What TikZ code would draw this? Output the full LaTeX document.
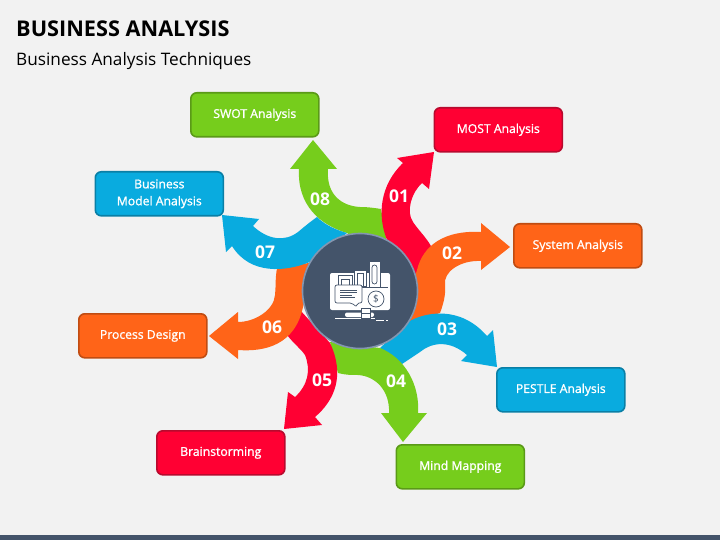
\documentclass[tikz,border=0pt]{standalone}
\usepackage{fontspec}
\setmainfont{Open Sans}
\newfontfamily\labfont[FakeBold=1.2]{Open Sans}
\definecolor{bg}{HTML}{F2F2F2}
\definecolor{slate}{HTML}{44546A}
\definecolor{ring}{HTML}{8496B0}
\definecolor{gr}{HTML}{76CD1C}
\definecolor{rd}{HTML}{FF0033}
\definecolor{og}{HTML}{FF6418}
\definecolor{bl}{HTML}{09ABDF}
\definecolor{grd}{HTML}{5A9A17}
\definecolor{rdd}{HTML}{B80A2E}
\definecolor{ogd}{HTML}{C04C12}
\definecolor{bld}{HTML}{0A7FA6}
\tikzset{
 lab/.style={rounded corners=6pt,line width=1.6pt,minimum width=128pt,minimum height=44pt,inner sep=0pt,align=center,text=white,
   font=\labfont\fontsize{12.2}{17}\selectfont,anchor=north west},
 num/.style={text=white,font=\bfseries\fontsize{17.5}{20}\selectfont,inner sep=0pt},
 ico/.style={draw=slate,line width=.7pt},
}
\begin{document}
\begin{tikzpicture}[x=1pt,y=-1pt]
\useasboundingbox (0,0) rectangle (720,540);
\fill[bg] (0,0) rectangle (720,540);
\fill[slate] (0,535) rectangle (720,540);
\node[anchor=west,inner sep=0pt,font=\bfseries\fontsize{21.7}{26}\selectfont] (title) at (16,28.5) {BUSINESS ANALYSIS};
\node[anchor=west,inner sep=0pt,font=\fontsize{17.2}{20}\selectfont] (sub) at (16,61) {Business Analysis Techniques};
% arrows
% 08
\fill[gr] (313,140) -- (337,169) -- (328,169)
  .. controls (326,195) and (342,206) .. (360,207)
  .. controls (368,207) and (375,208) .. (381,209)
  -- (390,260) -- (347,233)
  .. controls (320,225) and (297,205) .. (299,169)
  -- (290,169) -- cycle;
% 01
\fill[rd] (434,152) -- (429,189) -- (422,183)
  .. controls (411,193) and (406,212) .. (413,222)
  .. controls (419,231) and (427,238) .. (432,248)
  -- (417,280) -- (387,240)
  .. controls (377,215) and (380,185) .. (403,163)
  -- (397,158) -- cycle;
% 02
\fill[og] (510,247) -- (481,270) -- (481,261)
  .. controls (460,260) and (443,272) .. (445,285)
  .. controls (446,295) and (443,305) .. (440,313)
  -- (400,325) -- (417,270)
  .. controls (423,245) and (445,230) .. (481,232)
  -- (481,223) -- cycle;
% 03
\fill[bl] (497,367) -- (461,361) -- (467,355)
  .. controls (450,340) and (432,342) .. (420,352)
  .. controls (414,356) and (408,360) .. (402,364)
  -- (380,348) -- (408,322)
  .. controls (425,312) and (460,305) .. (487,336)
  -- (493,330) -- cycle;
% 04
\fill[gr] (403,442) -- (427,413) -- (418,413)
  .. controls (420,385) and (405,358) .. (380,348)
  -- (330,342) -- (338,373)
  .. controls (345,375) and (352,375) .. (358,375)
  .. controls (375,376) and (390,390) .. (389,413)
  -- (381,413) -- cycle;
% 05
\fill[rd] (284,429) -- (322,425) -- (315,417)
  .. controls (335,400) and (345,375) .. (330,343)
  -- (300,310) -- (287,335)
  .. controls (295,345) and (302,350) .. (305,355)
  .. controls (311,370) and (308,385) .. (295,397)
  -- (288,392) -- cycle;
% 06
\fill[og] (209,336) -- (238,359) -- (238,350)
  .. controls (265,352) and (295,345) .. (303,307)
  -- (315,262) -- (277,268)
  .. controls (275,280) and (276,287) .. (275,295)
  .. controls (274,310) and (255,322) .. (238,322)
  -- (238,312) -- cycle;
% 07
\fill[bl] (222,215) -- (259,219) -- (253,226)
  .. controls (268,240) and (285,242) .. (298,232)
  .. controls (304,227) and (310,222) .. (317,217)
  .. controls (325,225) and (336,230) .. (347,233)
  -- (310,262)
  .. controls (285,272) and (250,275) .. (232,246)
  -- (226,252) -- cycle;
% centre
\node[circle,fill=slate,draw=ring,line width=1.6pt,minimum size=115pt,inner sep=0pt] (hub) at (360,291) {};
% icon
\fill[white,rounded corners=2pt] (330,273) rectangle (390,310);
\fill[white,rounded corners=2pt] (345,312.5) rectangle (374,317);
\fill[white] (335,318) rectangle (375,319.2);
\fill[white] (376,320) rectangle (384,321);
\fill[white] (386,320.3) rectangle (388,321);
\draw[slate,line width=.8pt,fill=white] (361,308) rectangle (370,318);
\draw[slate,line width=.8pt] (361,313) -- (370,313);
\draw[ico,fill=white] (369,261) rectangle (380,287);
\draw[ico,rounded corners=2.5pt] (372,265) rectangle (377,284);
\draw[ico,fill=white] (354,270) rectangle (366,286);
\draw[ico] (357,273) -- (357,286) (363,273) -- (363,286) (357,273) -- (363,273);
\draw[ico,fill=white] (338,275) rectangle (352,286);
\draw[ico] (341,279) rectangle (349,286);
\draw[ico] (352,287) -- (388,287);
\draw[ico,fill=white,rounded corners=2pt] (335,285) -- (362,285) -- (362,303) -- (357,303) -- (356.5,307) -- (352,303) -- (335,303) -- cycle;
\draw[slate,line width=.7pt] (340,290) -- (357,290) (340,292.5) -- (357,292.5) (340,295) -- (352,295) (340,297.5) -- (355,297.5);
\draw[ico,fill=white] (376,299) circle (8);
\node[inner sep=0pt,text=slate,font=\fontsize{10}{10}\selectfont] (dollar) at (376,299) {\$};
% numbers
\node[num] (n1) at (399,196.5) {01};
\node[num] (n2) at (452,253.5) {02};
\node[num] (n3) at (447,329.5) {03};
\node[num] (n4) at (396,381) {04};
\node[num] (n5) at (322,380.5) {05};
\node[num] (n6) at (272,327.5) {06};
\node[num] (n7) at (265,252.5) {07};
\node[num] (n8) at (320,199.5) {08};
% boxes
\node[lab,fill=gr,draw=grd] (swot) at (190,92) {SWOT Analysis};
\node[lab,fill=rd,draw=rdd] (most) at (433.5,107) {MOST Analysis};
\node[lab,fill=og,draw=ogd] (sys) at (513,223) {System Analysis};
\node[lab,fill=bl,draw=bld] (pes) at (496,367) {PESTLE Analysis};
\node[lab,fill=gr,draw=grd] (mind) at (395.5,444) {Mind Mapping};
\node[lab,fill=rd,draw=rdd] (brain) at (156,430) {Brainstorming};
\node[lab,fill=og,draw=ogd] (proc) at (78,313) {Process Design};
\node[lab,fill=bl,draw=bld] (bma) at (94.5,171) {Business\\Model Analysis};
\end{tikzpicture}
\end{document}
